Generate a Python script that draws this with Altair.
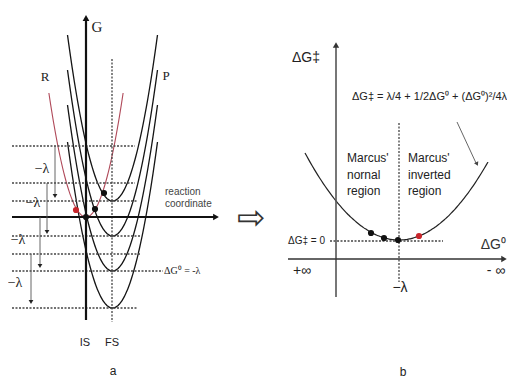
import altair as alt
import numpy as np
import pandas as pd

# ---------------- panel a data ----------------
p_vertex_y = [201, 236, 271, 308]        # product parabolas (centred at FS)
p_center_x = 112.5
p_depth = 166
p_k = 0.082
r_vertex_x, r_vertex_y = 86, 217          # reactant parabola (centred at IS)
r_depth = 124
r_k = 0.09

level_y = [146, 183, 201, 236, 254, 271, 308]
level_x_end = [135, 135, 137, 140, 140, 163, 138]

lam_x = [55, 47, 40, 31]
lam_y0 = [146, 183, 217, 254]
lam_y1 = [200, 236, 270, 306]
lam_label_x = [42, 33, 18, 15]
lam_label_y = [169, 203, 240, 283]

dots_a_x = [104, 95, 86, 76]
dots_a_y = [193, 209, 217, 210]
dots_a_col = ["#111111", "#111111", "#111111", "#c8262c"]

# ---------------- panel b data ----------------
b_vertex_x, b_vertex_y = 399, 240
b_k = 0.00985
b_x_from, b_x_to = 305, 488
dots_b_x = [371, 384, 398, 419]
dots_b_y = [233, 238, 240, 236]
dots_b_col = ["#111111", "#111111", "#111111", "#c8262c"]

# ---------------- build tables ----------------
rows = []
for j, vy in enumerate(p_vertex_y):
    hw = np.sqrt(p_depth / p_k)
    xs = np.linspace(p_center_x - hw, p_center_x + hw, 81)
    for i, xv in enumerate(xs):
        rows.append(dict(curve=f"P{j}", i=i, x=xv, y=vy - p_k * (xv - p_center_x) ** 2,
                         col="#151515", w=1.3))
hw = np.sqrt(r_depth / r_k)
for i, xv in enumerate(np.linspace(r_vertex_x - hw, r_vertex_x + hw, 81)):
    rows.append(dict(curve="R", i=i, x=xv, y=r_vertex_y - r_k * (xv - r_vertex_x) ** 2,
                     col="#b04a5a", w=1.1))
for i, xv in enumerate(np.linspace(b_x_from, b_x_to, 101)):
    rows.append(dict(curve="B", i=i, x=xv, y=b_vertex_y - b_k * (xv - b_vertex_x) ** 2,
                     col="#222222", w=1.2))
curves = pd.DataFrame(rows)

solid = pd.DataFrame([
    dict(x=86, y=20, x2=86, y2=320, col="#111111", w=2.2),        # G axis
    dict(x=12, y=217, x2=214, y2=217, col="#111111", w=2.2),      # reaction coordinate
    dict(x=336, y=46, x2=336, y2=297, col="#555555", w=1.6),      # ΔG‡ axis
    dict(x=288, y=259, x2=503, y2=259, col="#333333", w=1.6),     # ΔG0 axis
    dict(x=457, y=122, x2=476, y2=163, col="#555555", w=0.9),     # pointer
] + [dict(x=lx, y=a, x2=lx, y2=b - 5, col="#555555", w=0.9)
     for lx, a, b in zip(lam_x, lam_y0, lam_y1)])

dotted = pd.DataFrame(
    [dict(x=12, y=ly, x2=xe, y2=ly) for ly, xe in zip(level_y, level_x_end)]
    + [dict(x=112, y=59, x2=112, y2=322),
       dict(x=399, y=123, x2=399, y2=282),
       dict(x=330, y=241, x2=443, y2=241)])

heads = pd.DataFrame(
    [dict(x=86, y=18, a=0, s=45, col="#111111"),
     dict(x=216, y=217, a=90, s=45, col="#111111"),
     dict(x=336, y=45, a=0, s=40, col="#333333"),
     dict(x=504, y=259, a=90, s=40, col="#333333"),
     dict(x=477, y=164, a=155, s=22, col="#444444")]
    + [dict(x=lx, y=b - 4, a=180, s=22, col="#222222") for lx, b in zip(lam_x, lam_y1)])

dots = pd.DataFrame(
    [dict(x=a, y=b, col=c) for a, b, c in zip(dots_a_x, dots_a_y, dots_a_col)]
    + [dict(x=a, y=b, col=c) for a, b, c in zip(dots_b_x, dots_b_y, dots_b_col)])

serif_txt = pd.DataFrame(
    [dict(text="G", x=97, y=27, size=15, al="center"),
     dict(text="R", x=45, y=77, size=13, al="center"),
     dict(text="P", x=166, y=76, size=13, al="center"),
     dict(text="ΔG⁰ = -λ", x=164, y=271, size=10, al="left")]
    + [dict(text="−λ", x=a, y=b, size=14, al="center") for a, b in zip(lam_label_x, lam_label_y)])

sans_txt = pd.DataFrame([
    dict(text="reaction", x=165, y=192, size=10, al="left", col="#444444"),
    dict(text="coordinate", x=165, y=204, size=10, al="left", col="#444444"),
    dict(text="IS", x=85, y=343, size=11, al="center", col="#222222"),
    dict(text="FS", x=112, y=343, size=11, al="center", col="#222222"),
    dict(text="a", x=113, y=371, size=12, al="center", col="#222222"),
    dict(text="b", x=403, y=372, size=12, al="center", col="#222222"),
    dict(text="ΔG‡", x=306, y=58, size=14, al="center", col="#222222"),
    dict(text="ΔG⁰", x=506, y=245, size=14, al="right", col="#333333"),
    dict(text="+∞", x=302, y=271, size=14, al="center", col="#222222"),
    dict(text="- ∞", x=496, y=271, size=14, al="center", col="#222222"),
    dict(text="−λ", x=400, y=288, size=14, al="center", col="#222222"),
    dict(text="ΔG‡ = 0", x=325, y=241, size=10, al="right", col="#222222"),
    dict(text="ΔG‡ = λ/4 + 1/2ΔG⁰ + (ΔG⁰)²/4λ", x=352, y=97, size=11, al="left", col="#222222"),
    dict(text="Marcus'", x=347, y=158, size=12, al="left", col="#222222"),
    dict(text="nornal", x=347, y=175, size=12, al="left", col="#222222"),
    dict(text="region", x=347, y=191, size=12, al="left", col="#222222"),
    dict(text="Marcus'", x=408, y=158, size=12, al="left", col="#222222"),
    dict(text="inverted", x=408, y=175, size=12, al="left", col="#222222"),
    dict(text="region", x=408, y=191, size=12, al="left", col="#222222"),
    dict(text="⇨", x=251, y=219, size=34, al="center", col="#333333"),
])

# ---------------- encodings ----------------
XS = alt.Scale(domain=[8, 507], nice=False, zero=False)
YS = alt.Scale(domain=[8, 379], nice=False, zero=False, reverse=True)


def X(f="x"):
    return alt.X(f"{f}:Q", scale=XS, axis=None)


def Y(f="y"):
    return alt.Y(f"{f}:Q", scale=YS, axis=None)


layers = []
layers.append(alt.Chart(curves).mark_line(interpolate="monotone").encode(
    x=X(), y=Y(), detail="curve:N", order="i:Q",
    color=alt.Color("col:N", scale=None), strokeWidth=alt.StrokeWidth("w:Q", scale=None)))
layers.append(alt.Chart(dotted).mark_rule(strokeDash=[2, 1.5], strokeWidth=1.3, color="#444444").encode(
    x=X(), y=Y(), x2="x2:Q", y2="y2:Q"))
layers.append(alt.Chart(solid).mark_rule().encode(
    x=X(), y=Y(), x2="x2:Q", y2="y2:Q",
    color=alt.Color("col:N", scale=None), strokeWidth=alt.StrokeWidth("w:Q", scale=None)))
layers.append(alt.Chart(heads).mark_point(shape="triangle-up", filled=True, opacity=1).encode(
    x=X(), y=Y(), angle=alt.Angle("a:Q", scale=None), size=alt.Size("s:Q", scale=None),
    color=alt.Color("col:N", scale=None)))
layers.append(alt.Chart(dots).mark_circle(size=38, opacity=1).encode(
    x=X(), y=Y(), color=alt.Color("col:N", scale=None)))

for al in ["left", "center", "right"]:
    sub = serif_txt[serif_txt.al == al]
    if len(sub):
        layers.append(alt.Chart(sub).mark_text(font="Liberation Serif", align=al, baseline="middle",
                                               color="#222222").encode(
            x=X(), y=Y(), text="text:N", size=alt.Size("size:Q", scale=None)))
    sub = sans_txt[sans_txt.al == al]
    if len(sub):
        layers.append(alt.Chart(sub).mark_text(font="Liberation Sans Narrow, Liberation Sans, Arial",
                                               align=al, baseline="middle").encode(
            x=X(), y=Y(), text="text:N", size=alt.Size("size:Q", scale=None),
            color=alt.Color("col:N", scale=None)))

chart = alt.layer(*layers).properties(
    width=499, height=371, padding=0, autosize=alt.AutoSizeParams(type="none"),
    background="white"
).configure_view(stroke=None)

chart.save("out.html", embed_options={"renderer": "svg", "actions": False})
